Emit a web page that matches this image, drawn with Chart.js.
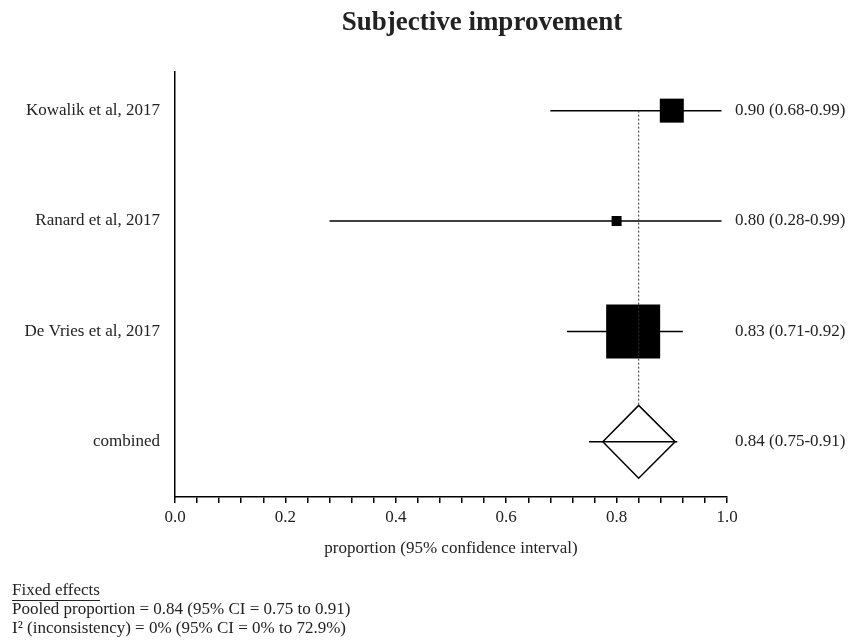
<!DOCTYPE html>
<html>
<head>
<meta charset="utf-8">
<script src="https://cdn.jsdelivr.net/npm/chart.js@4.4.0/dist/chart.umd.min.js"></script>
<style>
  html, body { margin: 0; padding: 0; background: #fff; }
  #wrap { width: 857px; height: 642px; }
</style>
</head>
<body>
<div id="wrap"><canvas id="forest"></canvas></div>
<script>
// study data
const studies = ["Kowalik et al, 2017", "Ranard et al, 2017", "De Vries et al, 2017"];
const estimate = [0.90, 0.80, 0.83];
const lower = [0.68, 0.28, 0.71];
const upper = [0.99, 0.99, 0.92];

// pooled (fixed effects)
const pooledName = "combined";
const pooledEst = 0.84;
const pooledLo = 0.75;
const pooledHi = 0.91;
const diamondEdges = [0.775, 0.906];

const rows = [4, 3, 2, 1];
const xTicks = [0, 0.2, 0.4, 0.6, 0.8, 1.0];

const footLines = [
  "Pooled proportion = 0.84 (95% CI = 0.75 to 0.91)",
  "I\u00b2 (inconsistency) = 0% (95% CI = 0% to 72.9%)"
];

// styles
const boxSide = [24, 10, 54];
const diamondHalf = 0.33;
const FONT = "'Liberation Serif', 'DejaVu Serif', serif";
const TXT = "#222";

const names = studies.concat([pooledName]);
const allEst = estimate.concat([pooledEst]);
const allLo = lower.concat([pooledLo]);
const allHi = upper.concat([pooledHi]);
const estLabels = allEst.map((e, i) => `${e.toFixed(2)} (${allLo[i].toFixed(2)}-${allHi[i].toFixed(2)})`);

const ciSets = rows.map((r, i) => ({
  data: [{ x: allLo[i], y: r }, { x: allHi[i], y: r }],
  showLine: true,
  borderColor: "#000",
  borderWidth: 1.5,
  pointRadius: 0
}));

const boxes = {
  data: estimate.map((e, i) => ({ x: e, y: rows[i] })),
  pointStyle: "rect",
  pointRadius: boxSide.map(s => s / Math.SQRT2),
  backgroundColor: "#000",
  borderWidth: 0
};

const pr = rows[rows.length - 1];
const diamond = {
  data: [
    { x: diamondEdges[0], y: pr },
    { x: pooledEst, y: pr + diamondHalf },
    { x: diamondEdges[1], y: pr },
    { x: pooledEst, y: pr - diamondHalf },
    { x: diamondEdges[0], y: pr }
  ],
  showLine: true,
  fill: false,
  borderColor: "#000",
  borderWidth: 1.5,
  pointRadius: 0
};

const refLine = {
  data: [{ x: pooledEst, y: rows[0] }, { x: pooledEst, y: pr + diamondHalf }],
  showLine: true,
  borderColor: "#333",
  borderWidth: 1,
  borderDash: [2, 2],
  pointRadius: 0
};

const setRowTicks = (scale) => { scale.ticks = rows.map(v => ({ value: v })); };

const extraText = {
  id: "extraText",
  afterDraw(chart) {
    const ctx = chart.ctx;
    ctx.save();
    ctx.fillStyle = TXT;
    ctx.textBaseline = "middle";
    ctx.textAlign = "center";
    ctx.font = "bold 27px " + FONT;
    ctx.fillText("Subjective improvement", 482, 23);

    ctx.textAlign = "left";
    ctx.font = "17px " + FONT;
    ctx.fillText("Fixed effects", 12, 591);
    const w = ctx.measureText("Fixed effects").width;
    ctx.strokeStyle = TXT;
    ctx.lineWidth = 1;
    ctx.beginPath();
    ctx.moveTo(12, 600.5);
    ctx.lineTo(12 + w, 600.5);
    ctx.stroke();
    footLines.forEach((t, i) => ctx.fillText(t, 12, 610 + i * 18.5));
    ctx.restore();
  }
};

new Chart("forest", {
  type: "scatter",
  data: { datasets: [refLine, ...ciSets, boxes, diamond] },
  options: {
    responsive: true,
    maintainAspectRatio: false,
    animation: false,
    layout: { padding: { top: 72, bottom: 75, left: 0, right: 0 } },
    plugins: { legend: { display: false }, tooltip: { enabled: false } },
    scales: {
      x: {
        type: "linear",
        min: 0,
        max: 1,
        afterFit: (s) => { s.height = 70; },
        afterBuildTicks: (s) => {
          s.ticks = [];
          for (let k = 0; k <= 25; k++) s.ticks.push({ value: k * 0.04 });
        },
        ticks: {
          autoSkip: false,
          maxRotation: 0,
          padding: 4,
          color: TXT,
          font: { family: FONT, size: 17 },
          callback: (v) => {
            const m = xTicks.find(t => Math.abs(t - v) < 1e-6);
            return m === undefined ? "" : m.toFixed(1);
          }
        },
        grid: { drawOnChartArea: false, tickLength: 6, color: "#000", lineWidth: 1.5 },
        border: { display: true, color: "#000", width: 1.5 },
        title: {
          display: true,
          text: "proportion (95% confidence interval)",
          color: TXT,
          font: { family: FONT, size: 17 },
          padding: { top: 4, bottom: 8 }
        }
      },
      y: {
        type: "linear",
        position: "left",
        min: 0.5,
        max: 4.35,
        afterFit: (s) => { s.width = 175; },
        afterBuildTicks: setRowTicks,
        ticks: {
          padding: 15,
          color: TXT,
          font: { family: FONT, size: 17 },
          callback: (v) => names[rows.indexOf(v)]
        },
        grid: { display: true, drawOnChartArea: false, drawTicks: false },
        border: { display: true, color: "#000", width: 1.5 }
      },
      y2: {
        type: "linear",
        position: "right",
        min: 0.5,
        max: 4.35,
        afterFit: (s) => { s.width = 130; },
        afterBuildTicks: setRowTicks,
        ticks: {
          padding: 8,
          color: TXT,
          font: { family: FONT, size: 17 },
          callback: (v) => estLabels[rows.indexOf(v)]
        },
        grid: { display: true, drawOnChartArea: false, drawTicks: false },
        border: { display: false }
      }
    }
  },
  plugins: [extraText]
});
</script>
</body>
</html>
